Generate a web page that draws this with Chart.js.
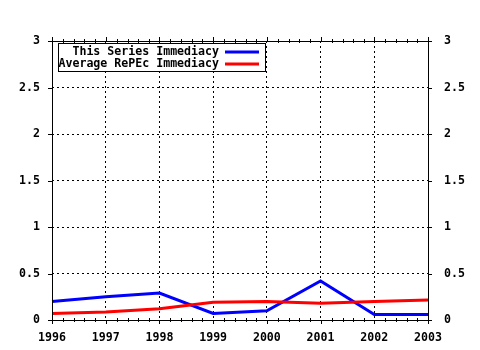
<!DOCTYPE html>
<html>
<head>
<meta charset="utf-8">
<script src="https://cdn.jsdelivr.net/npm/chart.js@4/dist/chart.umd.min.js"></script>
<style>
  html, body { margin: 0; padding: 0; background: #fff; }
  #wrap { width: 480px; height: 350px; }
</style>
</head>
<body>
<div id="wrap"><canvas id="myChart" width="480" height="350"></canvas></div>
<script>
const years = ["1996", "1997", "1998", "1999", "2000", "2001", "2002", "2003"];
const seriesImmediacy = [0.20, 0.25, 0.29, 0.07, 0.10, 0.42, 0.06, 0.06];
const repecImmediacy = [0.07, 0.085, 0.12, 0.19, 0.20, 0.18, 0.20, 0.215];
const seriesNames = ["This Series Immediacy", "Average RePEc Immediacy"];
const yTicks = [0, 0.5, 1, 1.5, 2, 2.5, 3];

const FONT = "bold 11.6px 'DejaVu Sans Mono'";
const colors = ['rgb(0,0,255)', 'rgb(255,0,0)'];

// frame, outward ticks, minor ticks and the boxed legend, gnuplot style
const framePlugin = {
    id: 'frame',
    afterDraw(chart) {
        const c = chart.ctx;
        const a = chart.chartArea;
        const xs = chart.scales.x, ys = chart.scales.y;
        c.save();
        c.strokeStyle = '#000';
        c.lineWidth = 1;
        c.beginPath();
        c.rect(Math.round(a.left) + 0.5, Math.round(a.top) + 0.5,
               Math.round(a.right - a.left), Math.round(a.bottom - a.top));
        c.stroke();

        c.beginPath();
        years.forEach((y, i) => {
            const px = Math.round(xs.getPixelForValue(i)) + 0.5;
            c.moveTo(px, a.bottom); c.lineTo(px, a.bottom + 4);
            c.moveTo(px, a.top); c.lineTo(px, a.top - 4);
            if (i < years.length - 1) {
                const nx = xs.getPixelForValue(i + 1);
                for (let k = 1; k < 5; k++) {
                    const mx = Math.round(px + (nx - px) * k / 5) + 0.5;
                    c.moveTo(mx, a.bottom - 2); c.lineTo(mx, a.bottom + 2);
                    c.moveTo(mx, a.top - 2); c.lineTo(mx, a.top + 2);
                }
            }
        });
        yTicks.forEach(v => {
            const py = Math.round(ys.getPixelForValue(v)) + 0.5;
            c.moveTo(a.left - 4, py); c.lineTo(a.left, py);
            c.moveTo(a.right, py); c.lineTo(a.right + 4, py);
        });
        c.stroke();

        // legend
        const bx = 58, by = 43, bw = 207, bh = 28;
        c.fillStyle = '#fff';
        c.fillRect(bx, by, bw, bh);
        c.strokeRect(bx + 0.5, by + 0.5, bw, bh);
        c.font = FONT;
        c.textAlign = 'right';
        c.textBaseline = 'middle';
        seriesNames.forEach((name, i) => {
            const ty = by + 9 + i * 12;
            c.fillStyle = '#000';
            c.fillText(name, 219, ty);
            c.strokeStyle = colors[i];
            c.lineWidth = 3;
            c.beginPath();
            c.moveTo(225, ty); c.lineTo(259, ty);
            c.stroke();
        });
        c.restore();
    }
};

const yAxisCommon = {
    min: 0,
    max: 3,
    afterBuildTicks: s => { s.ticks = yTicks.map(v => ({ value: v })); },
    ticks: {
        color: '#000',
        font: { family: 'DejaVu Sans Mono', size: 11.6, weight: 'bold' },
        callback: v => String(v)
    }
};

new Chart(document.getElementById('myChart').getContext('2d'), {
    type: 'line',
    data: {
        labels: years,
        datasets: [{
            label: seriesNames[0],
            data: seriesImmediacy,
            borderColor: colors[0],
            borderWidth: 3,
            pointRadius: 0,
            tension: 0,
            order: 2
        }, {
            label: seriesNames[1],
            data: repecImmediacy,
            borderColor: colors[1],
            borderWidth: 3,
            pointRadius: 0,
            tension: 0,
            order: 1
        }]
    },
    options: {
        responsive: false,
        animation: false,
        layout: { padding: { top: 41, left: 0, right: 0, bottom: 0 } },
        plugins: { legend: { display: false }, tooltip: { enabled: false } },
        scales: {
            x: {
                offset: false,
                afterFit: s => { s.height = 30; },
                border: { display: false, dash: [2, 3] },
                grid: { color: '#000', lineWidth: 1, drawTicks: false },
                ticks: {
                    color: '#000',
                    padding: 11,
                    maxRotation: 0,
                    font: { family: 'DejaVu Sans Mono', size: 11.6, weight: 'bold' }
                }
            },
            y: Object.assign({}, yAxisCommon, {
                position: 'left',
                afterFit: s => { s.width = 52; },
                border: { display: false, dash: [2, 3] },
                grid: { color: '#000', lineWidth: 1, drawTicks: false },
                ticks: Object.assign({}, yAxisCommon.ticks, { padding: 12 })
            }),
            y2: Object.assign({}, yAxisCommon, {
                position: 'right',
                afterFit: s => { s.width = 52; },
                border: { display: false },
                grid: { display: false, drawTicks: false },
                ticks: Object.assign({}, yAxisCommon.ticks, { padding: 16 })
            })
        }
    },
    plugins: [framePlugin]
});
</script>
</body>
</html>
